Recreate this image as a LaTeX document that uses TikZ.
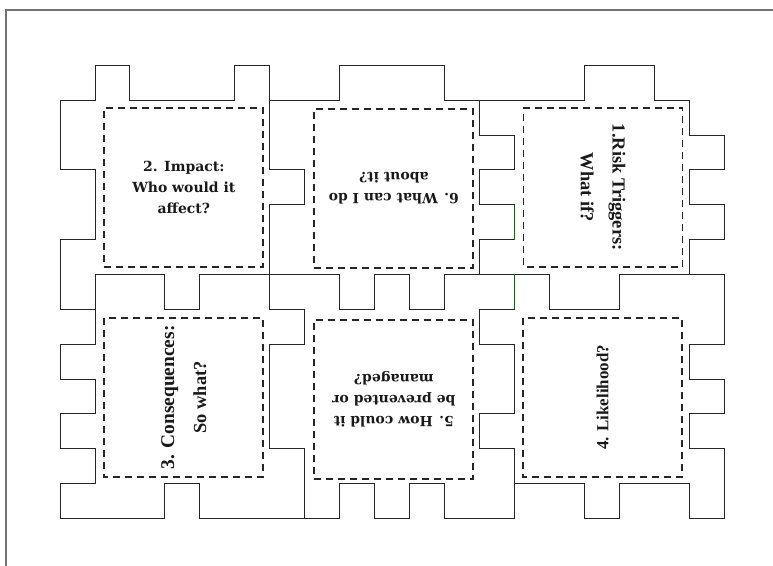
\documentclass[tikz,border=0pt]{standalone}
\usepackage{fontspec}
\usepackage{tikz}
\newfontfamily\cardserif{DejaVu Serif}
\newfontfamily\tmsserif{Liberation Serif}
\tikzset{
  cutline/.style={draw=black!85, line width=0.9bp, line join=miter},
  glueline/.style={draw=green!45!black, line width=0.9bp},
  frameline/.style={draw=black!55, line width=1.3bp},
  facebox/.style={rectangle, draw=black!85, line width=1.9bp, dash pattern=on 7bp off 5bp,
                  minimum width=159bp, minimum height=159bp, inner sep=0pt, align=center,
                  text=black!90},
  cardtext/.style={font=\cardserif\bfseries\fontsize{14}{21}\selectfont},
  tmstext/.style={font=\tmsserif\bfseries\fontsize{18.5}{32}\selectfont},
}
\begin{document}
\begin{tikzpicture}[x=34.95bp, y=-34.85bp]
  \useasboundingbox (-1.717,-1.874) rectangle (20.4,14.339);
  % sheet edge
  \draw[frameline] (-1.545,14.5) -- (-1.545,-1.587) -- (20.5,-1.587);
  % outline of the unfolded cube
  \draw[cutline] (0,1) -- (1,1) -- (1,0) -- (2,0) -- (2,1) -- (5,1) -- (5,0) -- (6,0) -- (6,1)
    -- (8,1) -- (8,0) -- (11,0) -- (11,1) -- (15,1) -- (15,0) -- (17,0) -- (17,1) -- (18,1)
    -- (18,2) -- (19,2) -- (19,3) -- (18,3) -- (18,4) -- (19,4) -- (19,5) -- (18,5) -- (18,6)
    -- (19,6) -- (19,8) -- (18,8) -- (18,9) -- (19,9) -- (19,10) -- (18,10) -- (18,11) -- (19,11)
    -- (19,13) -- (18,13) -- (18,12) -- (16,12) -- (16,13) -- (15,13) -- (15,12) -- (13,12)
    -- (13,13) -- (11,13) -- (11,12) -- (10,12) -- (10,13) -- (9,13) -- (9,12) -- (8,12)
    -- (8,13) -- (4,13) -- (4,12) -- (3,12) -- (3,13) -- (0,13) -- (0,12) -- (1,12) -- (1,11)
    -- (0,11) -- (0,10) -- (1,10) -- (1,9) -- (0,9) -- (0,8) -- (1,8) -- (1,7) -- (0,7)
    -- (0,5) -- (1,5) -- (1,3) -- (0,3) -- cycle;
  % inner cuts between the faces
  \draw[cutline] (1,7) -- (1,6) -- (3,6) -- (3,7) -- (4,7) -- (4,6) -- (8,6) -- (8,7) -- (9,7)
    -- (9,6) -- (10,6) -- (10,7) -- (11,7) -- (11,6) -- (14,6) -- (14,7) -- (16,7) -- (16,6) -- (18,6);
  \draw[cutline] (6,1) -- (6,3) -- (7,3) -- (7,4) -- (6,4) -- (6,7) -- (7,7) -- (7,8) -- (6,8)
    -- (6,11) -- (7,11) -- (7,13);
  \draw[cutline] (12,1) -- (12,2) -- (13,2) -- (13,3) -- (12,3) -- (12,4) -- (13,4) -- (13,5)
    -- (12,5) -- (12,6);
  \draw[cutline] (13,6) -- (13,7) -- (12,7) -- (12,8) -- (13,8) -- (13,10) -- (12,10) -- (12,11)
    -- (13,11) -- (13,12);
  \draw[glueline] (13,4) -- (13,5) (13,6) -- (13,7);
  % faces
  \node[facebox, cardtext] (impact) at (3.542,3.498) {2. Impact:\\Who would it\\affect?};
  \node[facebox, cardtext, rotate=180] (action) at (9.551,3.531) {6. What can I do\\about it?};
  \node[facebox, tmstext, rotate=-90] (trigger) at (15.536,3.498) {1.Risk Triggers:\\What if?};
  \node[facebox, tmstext, rotate=90] (conseq) at (3.542,9.532)
    {\fontsize{19.5}{35}\selectfont 3. Consequences:\\So what?};
  \node[facebox, cardtext, rotate=180] (prevent) at (9.551,9.59) {5. How could it\\be prevented or\\managed?};
  \node[facebox, tmstext, rotate=90] (likely) at (15.522,9.532) {\fontsize{17}{30}\selectfont 4. Likelihood?};
\end{tikzpicture}
\end{document}
